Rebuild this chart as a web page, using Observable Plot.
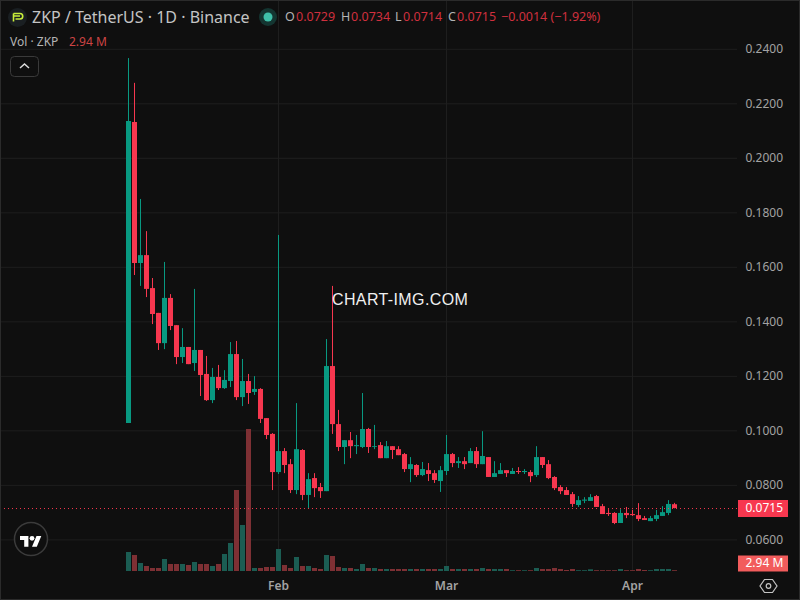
<!DOCTYPE html>
<html>
<head>
<meta charset="utf-8">
<script src="https://cdn.jsdelivr.net/npm/d3@7"></script>
<script src="https://cdn.jsdelivr.net/npm/@observablehq/plot@0.6"></script>
<style>
html,body{margin:0;padding:0;background:#0f0f0f;}
#wrap{position:relative;width:800px;height:600px;overflow:hidden;font-family:"Noto Sans",sans-serif;background:#0f0f0f;}
#wrap svg.plot{display:block;}
.t{position:absolute;white-space:nowrap;line-height:1;}
.g{color:#b4b4b4}.r{color:#d0303e}
#edge{position:absolute;inset:0;box-shadow:inset 0 0 0 1px #2b2b2b;pointer-events:none;}
</style>
</head>
<body>
<div id="wrap"></div>
<script>
const firstDay = Date.UTC(2026, 0, 7);
const open = [.1027,.2131,.1614,.1643,.1522,.1431,.1320,.1486,.1386,.1269,.1306,.1247,.1295,.1207,.1111,.1196,.1155,.1181,.1280,.1122,.1181,.1141,.1152,.1045,.0987,.0847,.0924,.0876,.0781,.0928,.0763,.0825,.0792,.0777,.1236,.1023,.0939,.0964,.0942,.0939,.1005,.0939,.0946,.0898,.0942,.0931,.0913,.0858,.0873,.0836,.0854,.0843,.0814,.0851,.0913,.0880,.0887,.0880,.0924,.0876,.0902,.0829,.0840,.0854,.0840,.0851,.0847,.0847,.0836,.0902,.0876,.0829,.0792,.0781,.0766,.0726,.0742,.0741,.0759,.0722,.0697,.0697,.0660,.0697,.0693,.0689,.0678,.0667,.0675,.0686,.0697,.0729];
const high = [.2366,.2275,.1849,.1731,.1559,.1431,.1618,.1500,.1386,.1375,.1306,.1519,.1295,.1273,.1229,.1240,.1221,.1324,.1328,.1262,.1207,.1199,.1155,.1045,.0990,.1717,.0935,.0895,.1100,.0931,.0843,.0843,.0807,.1335,.1530,.1075,.0964,.0994,.0983,.1137,.1009,.1020,.0957,.0961,.0942,.0942,.0917,.0902,.0876,.0884,.0880,.0854,.0869,.0983,.0917,.0902,.0902,.0935,.0939,.0997,.0902,.0887,.0880,.0854,.0862,.0865,.0858,.0854,.0942,.0902,.0891,.0832,.0799,.0792,.0774,.0759,.0755,.0766,.0763,.0730,.0711,.0700,.0711,.0719,.0708,.0733,.0686,.0686,.0708,.0722,.0744,.0734];
const low = [.1027,.1570,.1530,.1489,.1390,.1295,.1298,.1368,.1243,.1247,.1243,.1218,.1126,.1108,.1100,.1148,.1152,.1159,.1111,.1089,.1097,.1130,.1027,.0968,.0781,.0840,.0843,.0770,.0766,.0744,.0715,.0755,.0752,.0777,.0987,.0924,.0876,.0898,.0913,.0935,.0917,.0931,.0898,.0898,.0895,.0909,.0847,.0810,.0829,.0832,.0814,.0807,.0774,.0836,.0865,.0862,.0858,.0880,.0862,.0876,.0829,.0829,.0840,.0829,.0840,.0840,.0840,.0810,.0829,.0862,.0821,.0781,.0766,.0763,.0719,.0719,.0733,.0741,.0719,.0693,.0686,.0656,.0660,.0678,.0686,.0667,.0671,.0667,.0667,.0686,.0689,.0714];
const close = [.2135,.1614,.1643,.1519,.1427,.1320,.1486,.1383,.1269,.1306,.1243,.1295,.1203,.1111,.1196,.1155,.1185,.1280,.1122,.1181,.1137,.1152,.1042,.0983,.0847,.0924,.0873,.0781,.0931,.0763,.0821,.0788,.0777,.1236,.1023,.0939,.0964,.0942,.0946,.1005,.0939,.0942,.0898,.0942,.0928,.0909,.0858,.0876,.0836,.0858,.0840,.0818,.0854,.0913,.0880,.0887,.0876,.0924,.0876,.0906,.0829,.0843,.0854,.0843,.0851,.0847,.0851,.0832,.0902,.0873,.0825,.0788,.0777,.0763,.0730,.0744,.0746,.0755,.0719,.0693,.0693,.0660,.0697,.0689,.0689,.0675,.0671,.0678,.0689,.0700,.0730,.0715];
const volumeM = [70.3,59.2,29.6,18.5,11.1,11.1,44.4,25.9,25.9,25.9,22.2,33.3,25.9,25.9,18.5,25.9,62.9,103.6,299.7,170.2,525.4,11.1,11.1,14.8,14.8,81.4,22.2,11.1,51.8,18.5,18.5,11.1,7.4,59.2,55.5,14.8,11.1,11.1,7.4,25.9,11.1,11.1,7.4,7.4,7.4,7.4,7.4,7.4,7.4,7.4,7.4,7.4,7.4,18.5,7.4,7.4,7.4,7.4,7.4,11.1,7.4,7.4,7.4,7.4,2.94,2.94,2.94,2.94,11.1,7.4,7.4,11.1,7.4,3.7,7.4,2.94,2.94,6.3,2.94,2.94,2.94,2.94,7.4,2.94,2.94,7.4,3.7,2.94,7.4,7.4,7.4,2.94];
const priceTicks = [.06,.08,.10,.12,.14,.16,.18,.20,.22,.24];
const monthTicks = [Date.UTC(2026,1,1), Date.UTC(2026,2,1), Date.UTC(2026,3,1)].map(t => new Date(t));
const lastPrice = 0.0715;
const lastVolumeLabel = "2.94 M";

const UP = "#089981", DOWN = "#f7374f", VUP = "#1b5d53", VDOWN = "#7e3034";
const GRID = "#1e1e1e", TICK = "#a3a3a3";
const HOUR = 3600e3;
const at = h => new Date(firstDay + h * HOUR);
const yMin = 0.0484, yMax = 0.2579;
const volumeToPrice = 0.0000992;

const rows = open.map((o, i) => ({
  date: at(i * 24), o, h: high[i], l: low[i], c: close[i],
  volTop: yMin + volumeM[i] * volumeToPrice
}));
const up = rows.filter(d => d.c >= d.o), down = rows.filter(d => d.c < d.o);

const wick = (data, stroke) => Plot.ruleX(data, {x: "date", y1: "l", y2: "h", stroke, strokeWidth: 1});
const body = (data, stroke) => Plot.ruleX(data, {x: "date", y1: "o", y2: "c", stroke, strokeWidth: 5});
const vol = (data, stroke) => Plot.ruleX(data, {x: "date", y1: yMin, y2: "volTop", stroke, strokeWidth: 5});

const tagFrom = at(2440), tagTo = at(2640);
const volTagPrice = 0.0513;

const chart = Plot.plot({
  width: 800, height: 600,
  marginLeft: 0, marginTop: 0, marginRight: 63, marginBottom: 29,
  style: {background: "#0f0f0f", fontFamily: '"Noto Sans",sans-serif', fontSize: "12px", overflow: "visible"},
  x: {type: "utc", domain: [at(-512), at(2436)], axis: null},
  y: {domain: [yMin, yMax], axis: null},
  marks: [
    Plot.ruleY(priceTicks, {stroke: GRID}),
    Plot.ruleX(monthTicks, {stroke: GRID}),
    vol(up, VUP), vol(down, VDOWN),
    wick(up, UP), wick(down, DOWN),
    body(up, UP), body(down, DOWN),
    Plot.ruleY([lastPrice], {stroke: DOWN, strokeWidth: 1, strokeDasharray: "1,3"}),
    Plot.axisY({anchor: "right", ticks: priceTicks, tickSize: 0, tickPadding: 8, tickFormat: d => d.toFixed(4), label: null, fill: TICK, fontSize: 12}),
    Plot.axisX({anchor: "bottom", ticks: monthTicks, tickSize: 0, tickPadding: 10, tickFormat: d3.utcFormat("%b"), label: null, fill: TICK, fontSize: 12, fontWeight: 600}),
    Plot.ruleY([lastPrice], {x1: tagFrom, x2: tagTo, stroke: DOWN, strokeWidth: 17}),
    Plot.text([lastPrice], {y: d => d, frameAnchor: "right", textAnchor: "start", dx: 8, text: d => d.toFixed(4), fill: "#ffffff", fontSize: 12}),
    Plot.ruleY([volTagPrice], {x1: tagFrom, x2: tagTo, stroke: "#f25c5c", strokeWidth: 16}),
    Plot.text([volTagPrice], {y: d => d, frameAnchor: "right", textAnchor: "start", dx: 8, text: [lastVolumeLabel], fill: "#ffffff", fontSize: 12})
  ]
});

const wrap = document.getElementById("wrap");
wrap.appendChild(chart);

const overlay = document.createElement("div");
overlay.innerHTML = `
<svg style="position:absolute;left:8px;top:8px" width="19" height="19"><circle cx="9.5" cy="9.5" r="9.5" fill="#1a1f22"/><path d="M5.5 5.5h6.5a2.5 2.5 0 0 1 0 5.5H7.5M5.5 8h6.5M5.5 5.5v8" fill="none" stroke="#c9f03a" stroke-width="1.6"/></svg>
<div class="t" style="left:32px;top:9px;font-size:16px;color:#c4c4c4">ZKP / TetherUS · 1D · Binance</div>
<svg style="position:absolute;left:259px;top:8px" width="18" height="18"><circle cx="9" cy="9" r="9" fill="#143531"/><circle cx="9" cy="9" r="4.5" fill="#3fbfa9"/></svg>
<div class="t g" style="left:285px;top:11px;font-size:12.5px">O</div><div class="t r" style="left:296px;top:11px;font-size:12.5px">0.0729</div>
<div class="t g" style="left:341px;top:11px;font-size:12.5px">H</div><div class="t r" style="left:351px;top:11px;font-size:12.5px">0.0734</div>
<div class="t g" style="left:395px;top:11px;font-size:12.5px">L</div><div class="t r" style="left:403px;top:11px;font-size:12.5px">0.0714</div>
<div class="t g" style="left:448px;top:11px;font-size:12.5px">C</div><div class="t r" style="left:457px;top:11px;font-size:12.5px">0.0715</div>
<div class="t r" style="left:501px;top:11px;font-size:12.5px">−0.0014 (−1.92%)</div>
<div class="t g" style="left:10px;top:36px;font-size:12px">Vol · ZKP</div>
<div class="t" style="left:69px;top:36px;font-size:12px;color:#cc4444">2.94 M</div>
<svg style="position:absolute;left:10px;top:56px" width="29" height="21"><rect x=".5" y=".5" width="28" height="20" rx="4" fill="#0f0f0f" stroke="#3a3a3a"/><path d="M10 12l4.5-4 4.5 4" fill="none" stroke="#dddddd" stroke-width="1.5"/></svg>
<div class="t" style="left:332px;top:292px;font-family:'Liberation Sans';font-size:16px;letter-spacing:.38px;color:#f0f0f0">CHART-IMG.COM</div>
<svg style="position:absolute;left:13px;top:521px" width="36" height="36"><circle cx="18" cy="18" r="16.5" fill="#0f0f0f" stroke="#3b3b3b" stroke-width="1.5"/><g transform="translate(7,12.5) scale(.6)"><path fill="#ffffff" d="M14 22H7V11H0V4h14v18zM28 22h-8l7.5-18h8L28 22z"/><circle fill="#ffffff" cx="20" cy="8" r="4"/></g></svg>
<svg style="position:absolute;left:759px;top:577px" width="20" height="18"><path d="M5.5 2.5h8L18 9l-4.5 6.5h-8L1 9z" fill="none" stroke="#c4c4c4" stroke-width="1.2"/><circle cx="9.5" cy="9" r="2.3" fill="none" stroke="#c4c4c4" stroke-width="1.2"/></svg>
<div id="edge"></div>`;
wrap.appendChild(overlay);
</script>
</body>
</html>
